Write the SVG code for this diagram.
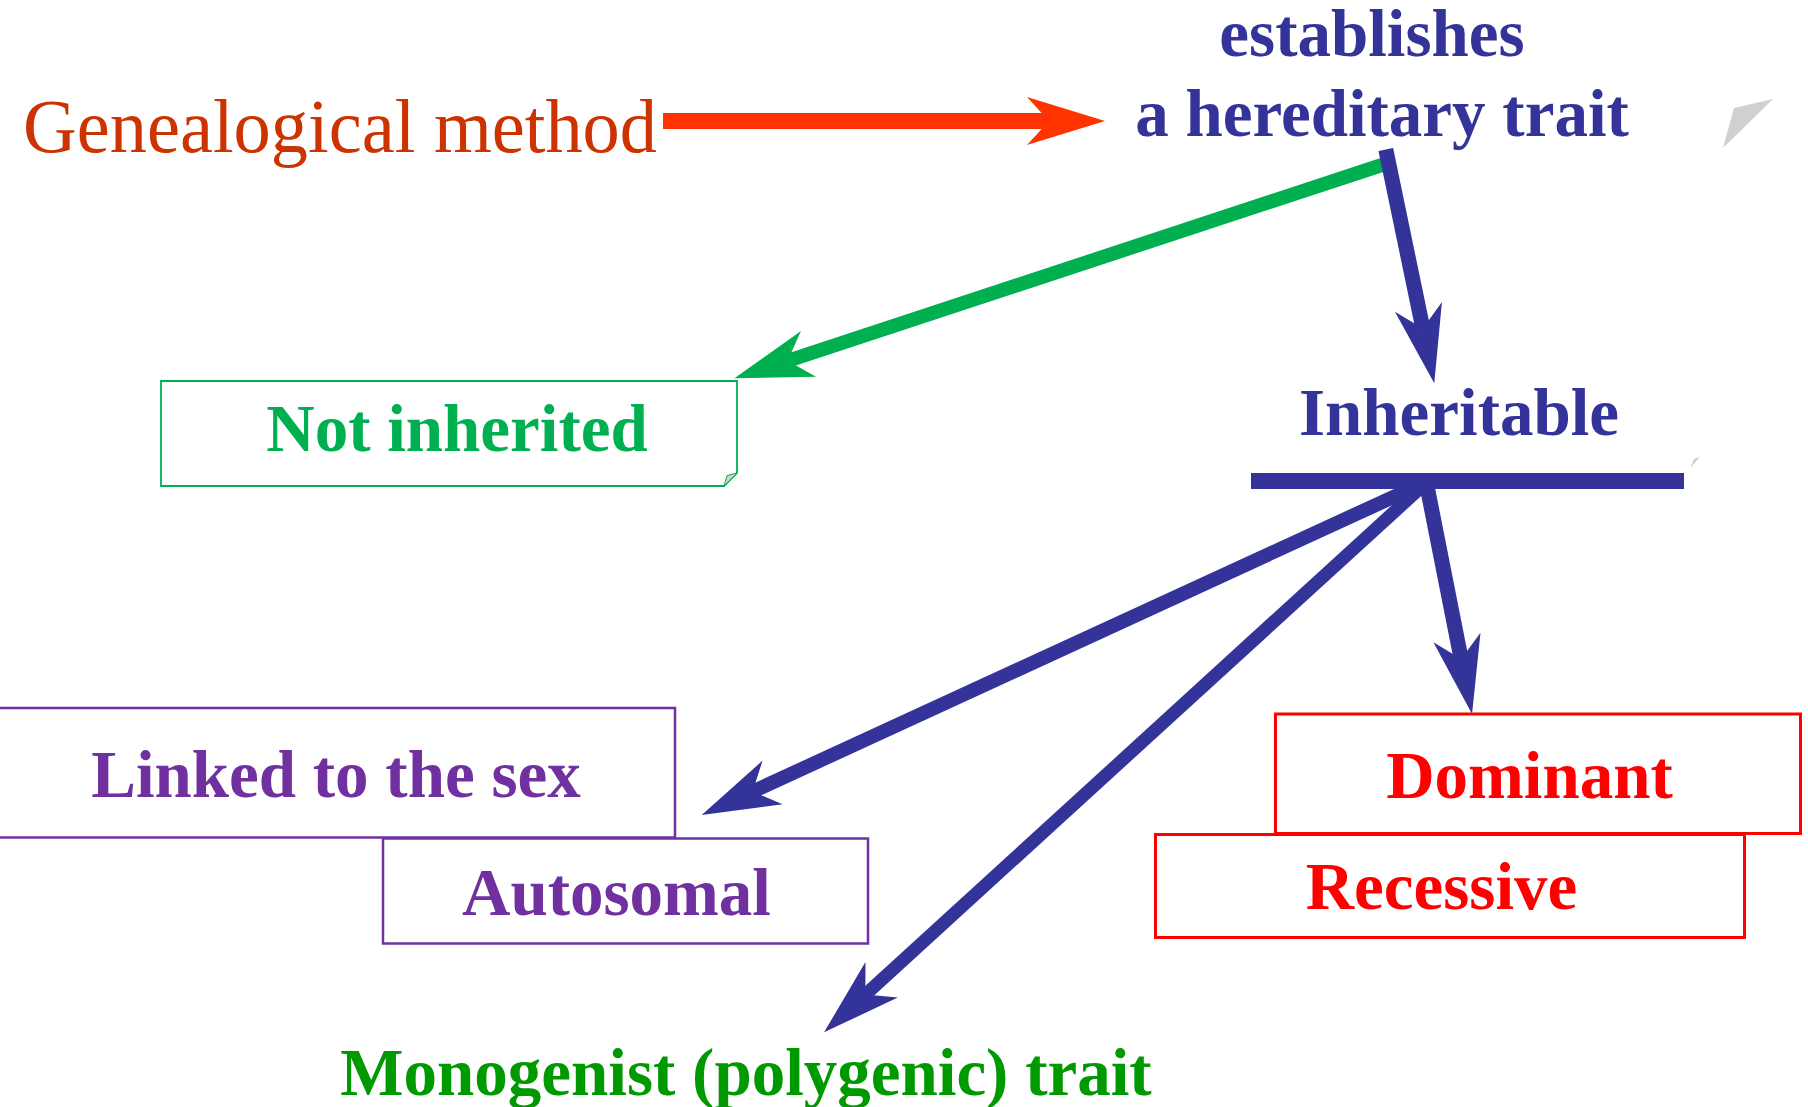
<svg xmlns="http://www.w3.org/2000/svg" width="1808" height="1107" viewBox="0 0 1808 1107">
  <defs>
    <style>
      .t { font-family: "Liberation Serif", "Times New Roman", serif; }
      .b { font-weight: bold; font-size: 67px; text-anchor: middle; }
      .box { fill: #FFFFFF; }
      .shaft { fill: none; stroke-linecap: butt; stroke-linejoin: miter; }
      .fold { fill: #D0D0D0; }
    </style>
    <!-- Arrowheads: tip 56 units ahead of the shaft end, barbs 24 to each side -->
    <marker id="headRed" markerUnits="userSpaceOnUse" viewBox="-2 -26 82 52" markerWidth="82" markerHeight="52" refX="22" refY="0" orient="auto" overflow="visible">
      <path d="M0,-24 L78,0 L0,24 L22,0 Z" fill="#FF3300"/>
    </marker>
    <marker id="headGreen" markerUnits="userSpaceOnUse" viewBox="-2 -26 82 52" markerWidth="82" markerHeight="52" refX="22" refY="0" orient="auto" overflow="visible">
      <path d="M0,-24 L78,0 L0,24 L22,0 Z" fill="#00B050"/>
    </marker>
    <marker id="headBlue" markerUnits="userSpaceOnUse" viewBox="-2 -26 82 52" markerWidth="82" markerHeight="52" refX="22" refY="0" orient="auto" overflow="visible">
      <path d="M0,-24 L78,0 L0,24 L22,0 Z" fill="#333399"/>
    </marker>
  </defs>

  <rect width="1808" height="1107" fill="#FFFFFF"/>

  <!-- loose corner marks -->
  <polygon class="fold" points="1734,108 1773,99 1723,148"/>
  <polygon class="fold" points="1694,459 1700,457 1690,468"/>

  <!-- connectors -->
  <g id="connectors">
    <path class="shaft" d="M663,121 L1049,121" stroke="#FF3300" stroke-width="16" marker-end="url(#headRed)"/>
    <path class="shaft" d="M1388,163 L787.6,360.8" stroke="#00B050" stroke-width="14" marker-end="url(#headGreen)"/>
    <path class="shaft" d="M1385.8,149.5 L1422.9,328.5" stroke="#333399" stroke-width="15" marker-end="url(#headBlue)"/>
    <path class="shaft" d="M1428,481 L752.6,791.6" stroke="#333399" stroke-width="14" marker-end="url(#headBlue)"/>
    <path class="shaft" d="M1428,481 L865.4,994.6" stroke="#333399" stroke-width="13" marker-end="url(#headBlue)"/>
    <path class="shaft" d="M1426,481 L1461.2,659.1" stroke="#333399" stroke-width="15" marker-end="url(#headBlue)"/>
    <!-- bar under "Inheritable" -->
    <rect x="1251" y="473" width="433" height="16" fill="#333399"/>
  </g>

  <g id="genealogical-method">
    <text class="t" x="23" y="152" font-size="76" fill="#CC3300" textLength="634" lengthAdjust="spacingAndGlyphs">Genealogical method</text>
  </g>

  <g id="hereditary-trait">
    <text class="t b" x="1372" y="56" fill="#333399">establishes</text>
    <text class="t b" x="1382" y="136" fill="#333399">a hereditary trait</text>
  </g>

  <g id="not-inherited">
    <path class="box" d="M161,381 H737 V473 L724,486 H161 Z" stroke="#00B050" stroke-width="1.8"/>
    <polygon points="737,473 724,486 727,475.5" fill="#D0D0D0" stroke="#00B050" stroke-width="1"/>
    <text class="t b" x="457" y="451" fill="#00B050">Not inherited</text>
  </g>

  <g id="inheritable">
    <text class="t b" x="1459" y="435" fill="#333399">Inheritable</text>
  </g>

  <g id="linked-to-sex">
    <rect class="box" x="-5" y="708" width="680" height="129.5" stroke="#7030A0" stroke-width="2.5"/>
    <text class="t b" x="336" y="797" fill="#7030A0">Linked to the sex</text>
  </g>

  <g id="autosomal">
    <rect class="box" x="383" y="838.5" width="485" height="105" stroke="#7030A0" stroke-width="2.5"/>
    <text class="t b" x="616.5" y="915" fill="#7030A0">Autosomal</text>
  </g>

  <g id="dominant">
    <rect class="box" x="1275.5" y="714" width="525" height="119.5" stroke="#FF0000" stroke-width="3"/>
    <text class="t b" x="1529.5" y="798" fill="#FF0000">Dominant</text>
  </g>

  <g id="recessive">
    <rect class="box" x="1155.5" y="834.5" width="589" height="103" stroke="#FF0000" stroke-width="3"/>
    <text class="t b" x="1441.5" y="909" fill="#FF0000">Recessive</text>
  </g>

  <g id="monogenist">
    <text class="t b" x="746" y="1095" fill="#009900">Monogenist (polygenic) trait</text>
  </g>
</svg>
